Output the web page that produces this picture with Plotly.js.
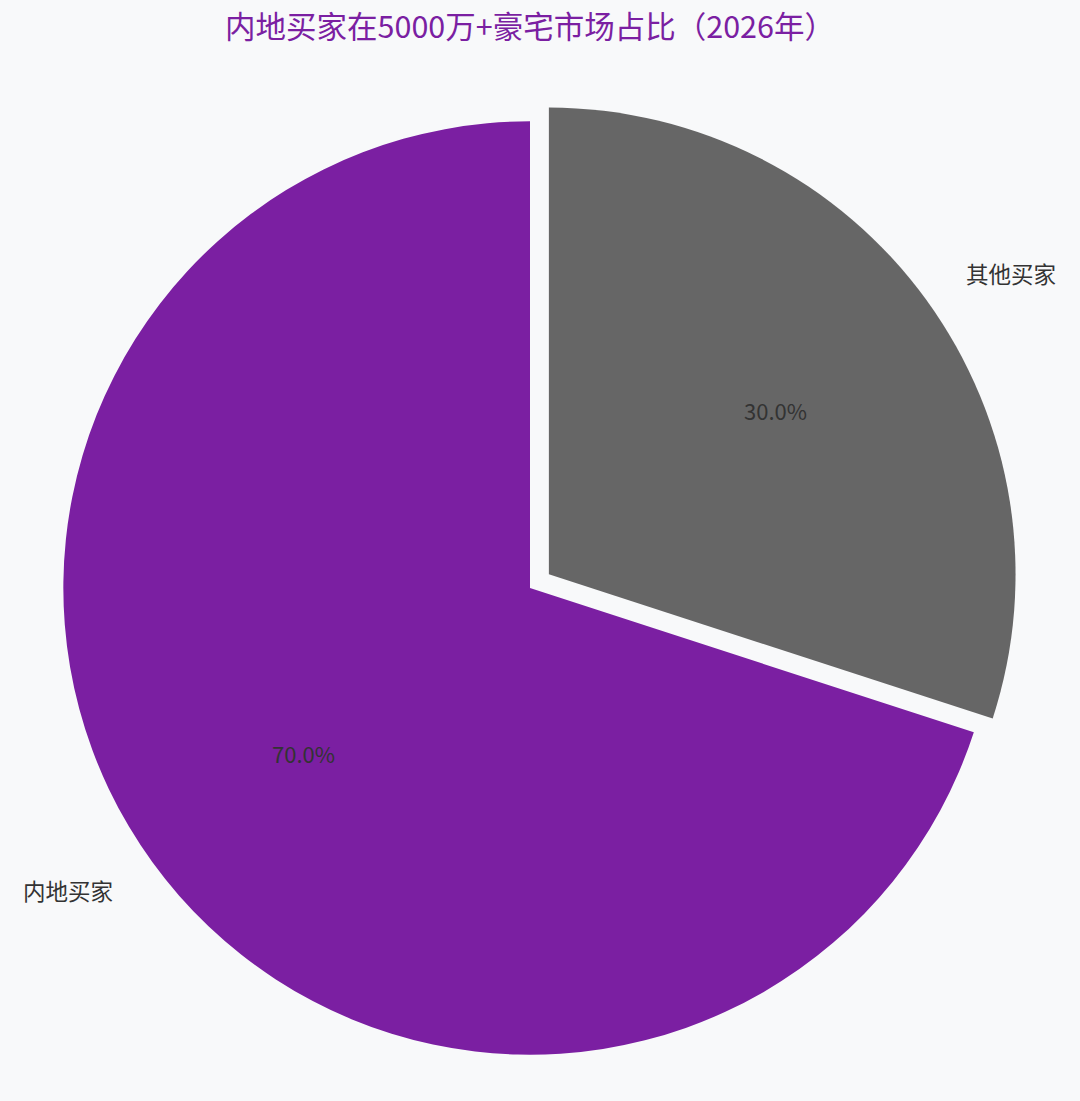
<!DOCTYPE html>
<html>
<head>
<meta charset="utf-8">
<script src="https://cdn.plot.ly/plotly-3.0.1.min.js"></script>
<style>
  body { margin: 0; background: #f8f9fa; }
  #chart { width: 1080px; height: 1101px; }
</style>
</head>
<body>
<div id="chart"></div>
<script>
const labels = ["内地买家", "其他买家"];
const shares = [70, 30];
const colors = ["#7b1fa2", "#666666"];
const pulls = [0, 0.05];

const W = 1080, H = 1101;
const margin = {l: 40, r: 60, t: 98, b: 23};
const boxW = W - margin.l - margin.r;
const boxH = H - margin.t - margin.b;
const cx = margin.l + boxW / 2;
const cy = margin.t + boxH / 2;
const R = Math.min(boxW, boxH) / (2 + 2 * Math.max(...pulls));

const total = shares.reduce((a, b) => a + b, 0);

// first slice should run counterclockwise from 12 o'clock;
// plotly draws the first slice clockwise from `rotation`, so start it where it has to end
const startRot = 360 - shares[0] / total * 360;

// annotation positions follow the slice angles
let annotations = [];
let acc = 0;
for (let i = 0; i < shares.length; i++) {
  const mid = 90 + (acc + shares[i] / 2) / total * 360;
  acc += shares[i];
  const a = mid * Math.PI / 180;
  const off = pulls[i] * R;
  const pr = 0.6 * R + off;
  const lr = 1.1 * R + off;
  annotations.push({
    x: (cx + pr * Math.cos(a) - margin.l) / boxW,
    y: 1 - (cy - pr * Math.sin(a) - margin.t) / boxH,
    xref: 'paper', yref: 'paper', showarrow: false,
    text: (shares[i] / total * 100).toFixed(1) + '%',
    font: {size: 22, color: '#333333'},
    xanchor: 'center', yanchor: 'middle'
  });
  const lx = cx + lr * Math.cos(a);
  annotations.push({
    x: (lx - margin.l) / boxW,
    y: 1 - (cy - lr * Math.sin(a) - margin.t) / boxH,
    xref: 'paper', yref: 'paper', showarrow: false,
    text: labels[i],
    font: {size: 22.5, color: '#333333'},
    xanchor: Math.cos(a) >= 0 ? 'left' : 'right', yanchor: 'middle'
  });
}

const trace = {
  type: 'pie',
  labels: labels,
  values: shares,
  sort: false,
  direction: 'counterclockwise',
  rotation: startRot,
  pull: pulls,
  marker: {colors: colors, line: {width: 0}},
  textinfo: 'none',
  hoverinfo: 'label+percent',
  showlegend: false
};

const layout = {
  width: W, height: H,
  margin: margin,
  paper_bgcolor: '#f8f9fa',
  plot_bgcolor: '#f8f9fa',
  font: {family: '"Noto Sans CJK SC", "Noto Sans", sans-serif', color: '#333333'},
  title: {
    text: '内地买家在5000万+豪宅市场占比（2026年）',
    font: {size: 30.5, color: '#7b1fa2'},
    x: 0.5, xref: 'paper', y: 0.975, yref: 'container', yanchor: 'middle'
  },
  annotations: annotations,
  showlegend: false
};

Plotly.newPlot('chart', [trace], layout, {displayModeBar: false});
</script>
</body>
</html>
